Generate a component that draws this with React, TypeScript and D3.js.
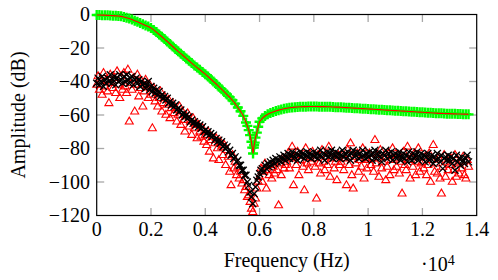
import React, { useEffect, useRef } from "react";
import * as d3 from "d3";

// model / green measurement, one value every 100 Hz (0 .. 13700 Hz)
const modelStep = 100;
const modelDb = [
  -0.3, -0.3, -0.4, -0.4, -0.5, -0.6, -0.7, -0.8, -0.9, -1.1,
  -1.5, -1.9, -2.4, -3.0, -3.7, -4.4, -5.1, -5.8, -6.5, -7.2,
  -8.0, -9.2, -10.5, -11.9, -13.3, -14.7, -16.1, -17.6, -19.1, -20.6,
  -22.0, -23.4, -24.8, -26.2, -27.6, -29.0, -30.4, -31.7, -33.0, -34.3,
  -35.6, -37.0, -38.5, -40.0, -41.5, -43.1, -44.6, -46.2, -47.8, -49.4,
  -51.2, -53.2, -55.5, -57.8, -60.5, -64.5, -69.0, -76.0, -78.0, -70.5,
  -64.0, -62.0, -60.6, -59.6, -58.8, -58.2, -57.6, -57.1, -56.7, -56.3,
  -56.0, -55.7, -55.5, -55.3, -55.2, -55.1, -55.0, -55.0, -54.9, -54.9,
  -54.9, -54.9, -55.0, -55.0, -55.0, -55.1, -55.1, -55.2, -55.3, -55.3,
  -55.4, -55.5, -55.6, -55.7, -55.8, -55.9, -56.0, -56.1, -56.2, -56.3,
  -56.4, -56.5, -56.6, -56.7, -56.8, -56.9, -57.0, -57.1, -57.2, -57.3,
  -57.4, -57.5, -57.6, -57.7, -57.8, -57.9, -58.0, -58.1, -58.2, -58.3,
  -58.4, -58.5, -58.6, -58.7, -58.8, -58.9, -59.0, -59.0, -59.1, -59.2,
  -59.2, -59.3, -59.3, -59.4, -59.4, -59.5, -59.5, -59.6,
];
// extra readings around the notch
const dipFreq = [5550, 5650, 5730, 5760, 5790, 5820, 5850, 5950];
const dipDb = [-66.5, -72, -79.5, -83, -79.5, -76.5, -73.5, -67];

// noisy measurements, one every 50 Hz (0 .. 13700 Hz)
const measStep = 50;
const blackDb = [
  -41, -38, -42, -40, -37, -43, -39, -41, -38, -40, -36, -41, -39, -37, -42, -38, -40, -36, -39, -41,
  -37, -40, -36, -39, -41, -38, -37, -42, -39, -38, -41, -39, -43, -40, -42, -41, -44, -42, -40, -45,
  -43, -46, -44, -47, -45, -48, -46, -49, -48, -50, -49, -51, -50, -53, -52, -54, -53, -55, -54, -57,
  -56, -58, -57, -60, -59, -61, -60, -62, -61, -64, -63, -65, -64, -66, -65, -67, -66, -68, -67, -70,
  -69, -71, -70, -72, -71, -73, -72, -75, -74, -76, -75, -77, -76, -79, -78, -80, -79, -82, -81, -84,
  -83, -86, -85, -88, -87, -90, -90, -93, -93, -96, -96, -100, -102, -106, -109, -113, -107, -103, -99, -97,
  -95, -93, -92, -94, -90, -92, -89, -91, -88, -90, -87, -89, -86, -88, -87, -85, -88, -86, -84, -87,
  -85, -83, -86, -84, -82, -86, -85, -83, -87, -84, -82, -85, -83, -86, -84, -82, -85, -83, -86, -84,
  -82, -85, -83, -86, -84, -81, -85, -83, -87, -84, -82, -85, -83, -81, -86, -84, -82, -85, -83, -86,
  -84, -81, -85, -83, -86, -82, -84, -87, -83, -81, -85, -84, -82, -86, -83, -85, -81, -84, -86, -83,
  -85, -82, -84, -87, -83, -81, -86, -84, -82, -85, -88, -83, -84, -81, -86, -83, -85, -82, -87, -84,
  -83, -86, -84, -82, -87, -85, -83, -86, -84, -88, -82, -85, -87, -83, -86, -84, -82, -87, -85, -83,
  -86, -84, -88, -85, -83, -87, -86, -84, -89, -85, -87, -83, -86, -88, -84, -92, -86, -85, -87, -84,
  -87, -85, -89, -86, -93, -84, -88, -86, -90, -85, -87, -89, -86, -84, -88,
];
const redDb = [
  -42, -37, -45, -40, -48, -35, -43, -39, -46, -53, -36, -41, -44, -38, -47, -34, -42, -50, -37, -45,
  -35, -43, -47, -33, -64, -41, -45, -38, -58, -42, -36, -49, -44, -40, -55, -46, -39, -43, -50, -42,
  -48, -68, -44, -52, -47, -55, -50, -46, -58, -53, -49, -60, -54, -51, -62, -56, -53, -59, -57, -64,
  -60, -55, -66, -58, -63, -70, -61, -59, -67, -64, -72, -62, -68, -65, -74, -66, -70, -73, -68, -76,
  -72, -78, -70, -82, -75, -73, -86, -77, -74, -80, -87, -76, -79, -84, -78, -90, -81, -85, -94, -102,
  -84, -92, -88, -96, -91, -98, -94, -101, -99, -105, -103, -109, -108, -112, -116, -118, -113, -110, -104, -100,
  -97, -92, -100, -94, -89, -104, -93, -96, -90, -98, -91, -95, -88, -93, -114, -89, -96, -86, -92, -90,
  -88, -83, -92, -86, -79, -102, -85, -90, -82, -96, -87, -84, -91, -105, -80, -89, -93, -85, -88, -82,
  -86, -91, -110, -84, -89, -95, -81, -88, -93, -85, -90, -79, -97, -86, -83, -92, -88, -99, -84, -90,
  -88, -84, -93, -86, -102, -81, -90, -77, -96, -104, -85, -89, -83, -94, -87, -91, -80, -98, -86, -92,
  -87, -83, -90, -86, -94, -75, -89, -84, -97, -81, -92, -88, -85, -99, -91, -83, -96, -87, -80, -93,
  -86, -91, -84, -95, -88, -107, -82, -90, -93, -79, -87, -98, -85, -91, -83, -96, -88, -80, -94, -89,
  -88, -92, -85, -96, -90, -83, -100, -87, -78, -94, -89, -95, -86, -98, -107, -91, -84, -97, -88, -93,
  -90, -86, -100, -93, -84, -97, -89, -95, -88, -92, -85, -96, -98, -87, -91,
];

const xTicks = [0, 2000, 4000, 6000, 8000, 10000, 12000, 14000];
const yTicks = [-120, -100, -80, -60, -40, -20, 0];

const W = 498;
const H = 280;
const font =
  '"Liberation Serif", "DejaVu Serif", "Noto Serif", FreeSerif, Tinos, "Times New Roman", Times, Georgia, serif';

export default function App() {
  const ref = useRef<SVGSVGElement>(null);

  useEffect(() => {
    const svg = d3.select(ref.current);
    svg.selectAll("*").remove();

    const left = 96.7, right = 476.7, top = 14.5, bottom = 215.5;
    const x = d3.scaleLinear().domain([0, 14000]).range([left, right]);
    const y = d3.scaleLinear().domain([-120, 0]).range([bottom, top]);

    const model = modelDb
      .map((v, i) => ({ f: i * modelStep, v }))
      .concat(dipFreq.map((f, i) => ({ f, v: dipDb[i] })))
      .sort((a, b) => a.f - b.f);
    const black = blackDb.map((v, i) => ({ f: i * measStep, v }));
    const red = redDb.map((v, i) => ({ f: i * measStep, v }));

    // ticks (grey, inside on all four sides)
    const tick = svg.append("g").attr("stroke", "#a8a8a8").attr("stroke-width", 1.3);
    const tl = 7.5;
    xTicks.slice(1, -1).forEach(t => {
      tick.append("line").attr("x1", x(t)).attr("x2", x(t)).attr("y1", bottom).attr("y2", bottom - tl);
      tick.append("line").attr("x1", x(t)).attr("x2", x(t)).attr("y1", top).attr("y2", top + tl);
    });
    yTicks.slice(1, -1).forEach(t => {
      tick.append("line").attr("x1", left).attr("x2", left + tl).attr("y1", y(t)).attr("y2", y(t));
      tick.append("line").attr("x1", right).attr("x2", right - tl).attr("y1", y(t)).attr("y2", y(t));
    });

    svg
      .append("rect")
      .attr("x", left)
      .attr("y", top)
      .attr("width", right - left)
      .attr("height", bottom - top)
      .attr("fill", "none")
      .attr("stroke", "black")
      .attr("stroke-width", 1.2);

    // red triangles
    svg
      .append("g")
      .selectAll("path")
      .data(red)
      .join("path")
      .attr("transform", d => `translate(${x(d.f)},${y(d.v)})`)
      .attr("d", "M0,-4.6L4,2.3L-4,2.3Z")
      .attr("fill", "none")
      .attr("stroke", "#ff0000")
      .attr("stroke-width", 1.1);

    // black crosses
    svg
      .append("g")
      .selectAll("path")
      .data(black)
      .join("path")
      .attr("transform", d => `translate(${x(d.f)},${y(d.v)})`)
      .attr("d", "M-3.5,-3.5L3.5,3.5M-3.5,3.5L3.5,-3.5")
      .attr("stroke", "black")
      .attr("stroke-width", 1.3);

    // green pluses
    svg
      .append("g")
      .selectAll("path")
      .data(model)
      .join("path")
      .attr("transform", d => `translate(${x(d.f)},${y(d.v)})`)
      .attr("d", "M-5,0H5M0,-5V5")
      .attr("stroke", "#00ff00")
      .attr("stroke-width", 2.4);

    // red model line
    svg
      .append("path")
      .datum(model)
      .attr("fill", "none")
      .attr("stroke", "#ff0000")
      .attr("stroke-width", 1.1)
      .attr(
        "d",
        d3
          .line<{ f: number; v: number }>()
          .x(d => x(d.f))
          .y(d => y(d.v))
      );

    const addText = (sel: d3.Selection<any, any, any, any>) =>
      sel.append("text").style("font-family", font).style("font-size", "20px").attr("fill", "black");

    const txt = svg.append("g");

    xTicks.forEach(t =>
      addText(txt)
        .attr("x", x(t))
        .attr("y", 236)
        .attr("text-anchor", "middle")
        .text(String(+(t / 1e4).toFixed(1)))
    );

    yTicks.forEach(t =>
      addText(txt)
        .attr("x", 90)
        .attr("y", y(t) + 6.5)
        .attr("text-anchor", "end")
        .text(t === 0 ? "0" : "\u2212" + Math.abs(t))
    );

    addText(txt)
      .attr("x", (left + right) / 2)
      .attr("y", 266.5)
      .attr("text-anchor", "middle")
      .text("Frequency (Hz)");

    addText(txt)
      .attr("transform", `translate(24.5,${(top + bottom) / 2}) rotate(-90)`)
      .attr("text-anchor", "middle")
      .text("Amplitude (dB)");

    const exp = addText(txt).attr("x", 421).attr("y", 270.5);
    exp.append("tspan").text("\u00b710");
    exp.append("tspan").style("font-size", "14px").attr("dy", -6).text("4");
  }, []);

  return (
    <svg
      ref={ref}
      width={W}
      height={H}
      style={{ position: "absolute", left: 0, top: 0, background: "white" }}
    />
  );
}
